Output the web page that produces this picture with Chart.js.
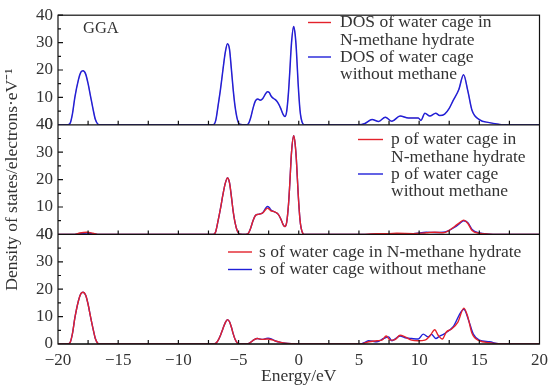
<!DOCTYPE html>
<html>
<head>
<meta charset="utf-8">
<script src="https://cdn.jsdelivr.net/npm/chart.js@4.4.1/dist/chart.umd.min.js"></script>
<style>
  html, body { margin: 0; padding: 0; background: #fff; }
</style>
</head>
<body>
<canvas id="dosChart" width="554" height="387"></canvas>
<script>
// values (energy in eV, DOS in electrons/eV)

// total DOS of the water cage (top panel)
var dosE = [-20, -19.2, -19.0, -18.8, -18.6, -18.3, -18.1, -17.92, -17.7, -17.5, -17.3, -17.1, -16.9, -16.7, -16.5,
  -7.3, -7.1, -6.9, -6.7, -6.5, -6.3, -6.1, -5.92, -5.75, -5.6, -5.45, -5.3, -5.1, -4.9,
  -4.4, -4.2, -4.0, -3.8, -3.6, -3.4, -3.2, -3.0, -2.8, -2.6, -2.45, -2.3, -2.1, -1.9, -1.7, -1.5, -1.3, -1.15,
  -1.0, -0.85, -0.75, -0.6, -0.42, -0.3, -0.2, -0.05, 0.1, 0.2, 0.35, 0.5,
  5.0, 5.5, 6.09, 6.64, 7.19, 7.74, 8.42, 9.11, 9.93, 10.15, 10.48, 10.89, 11.38, 11.71, 12.12, 12.5,
  12.81, 13.3, 13.69, 14.05, 14.4, 15.0, 15.83, 16.6, 17.0, 20];
var dosEmpty = [0, 0, 0.5, 4, 10, 16.5, 19.2, 19.7, 18.5, 15, 10.5, 6, 2, 0.3, 0,
  0, 0, 1.5, 7, 13, 20, 26.5, 29.6, 27.5, 20.5, 13, 7, 2, 0.2,
  0, 0.3, 2.5, 6, 8.7, 9.4, 9, 9.5, 11, 12.1, 11.8, 10.5, 9.6, 9, 7.8, 6, 3.8, 3,
  5, 12, 19, 30, 35.9, 33, 27.5, 15, 5.5, 2.3, 0.3, 0,
  0, 0.5, 1.9, 1.2, 2.8, 1.3, 3.2, 2.5, 2.5, 1.6, 4.2, 3.2, 4.2, 3.4, 3.9, 6,
  8.75, 12.9, 18.3, 12.3, 5.2, 1.9, 0.8, 0.2, 0, 0];
// the red curve is hidden under the blue one everywhere in the top panel
var dosHyd = dosEmpty;

// p states (middle panel)
var pE = [-20, -18.6, -18.2, -17.6, -17.1, -16.7,
  -7.1, -6.9, -6.7, -6.5, -6.3, -6.1, -5.92, -5.75, -5.6, -5.45, -5.3, -5.1, -4.9,
  -4.4, -4.2, -4.0, -3.8, -3.6, -3.4, -3.2, -3.0, -2.8, -2.6, -2.45, -2.3, -2.1, -1.9, -1.7, -1.5, -1.3, -1.15,
  -1.0, -0.85, -0.75, -0.6, -0.42, -0.3, -0.2, -0.05, 0.1, 0.2, 0.35, 0.5,
  5.5, 6.5, 7.5, 8.15, 9.5, 10.6, 11.3, 12.0, 12.4, 12.95, 13.4, 13.69, 14.05, 14.4, 15.0, 15.8, 16.5, 20];
var pHyd = [0, 0, 0.5, 0.8, 0.4, 0,
  0, 1, 5, 9.5, 14.5, 18.7, 20.6, 18.8, 14, 8.5, 4.5, 1.2, 0.1,
  0, 0.3, 2.2, 5, 6.9, 7.3, 7.5, 7.8, 8.8, 9.6, 9.2, 8.6, 8.4, 8, 7.3, 5.7, 3.6, 2.9,
  4.5, 11, 18, 30, 36, 33, 27.5, 15, 5.5, 2.3, 0.3, 0,
  0, 0.3, 0.3, 0.4, 0.3, 0.6, 0.8, 0.6, 1.2, 2.9, 4.4, 5.2, 4.0, 1.4, 0.4, 0.1, 0, 0];
var pEmpty = [0, 0, 0.3, 0.5, 0.2, 0,
  0, 1, 5, 9.5, 14.5, 18.7, 20.6, 18.8, 14, 8.5, 4.5, 1.2, 0.1,
  0, 0.3, 2.2, 5, 6.9, 7.3, 7.5, 7.9, 9.2, 10.2, 9.8, 8.9, 8.4, 8, 7.3, 5.7, 3.6, 2.9,
  4.5, 11, 18, 30, 36, 33, 27.5, 15, 5.5, 2.3, 0.3, 0,
  0, 0.2, 0.3, 0.3, 0.3, 0.8, 0.7, 0.8, 1.3, 2.6, 4.1, 5.0, 4.3, 1.8, 0.5, 0.1, 0, 0];

// s states (bottom panel), valence part
var sLowE = [-20, -19.2, -19.0, -18.8, -18.6, -18.3, -18.1, -17.92, -17.7, -17.5, -17.3, -17.1, -16.9, -16.7, -16.5,
  -7.1, -6.9, -6.7, -6.5, -6.3, -6.1, -5.92, -5.75, -5.6, -5.45, -5.3, -5.1, -4.9,
  -4.3, -4.0, -3.7, -3.43, -3.2, -2.96, -2.7, -2.55, -2.2, -1.87, -1.5, -1.13, -0.6, 0];
var sLowHyd = [0, 0, 0.5, 3.8, 9.5, 15.8, 18.4, 18.9, 17.8, 14.5, 10, 5.8, 2, 0.3, 0,
  0, 0.2, 1.3, 3.2, 5.6, 7.8, 8.9, 8.1, 6.2, 3.8, 1.8, 0.4, 0,
  0, 0.6, 1.6, 2.0, 1.8, 1.7, 1.8, 1.8, 1.5, 1.0, 0.6, 0.3, 0.1, 0];
var sLowEmpty = [0, 0, 0.5, 3.8, 9.5, 15.8, 18.4, 18.9, 17.8, 14.5, 10, 5.8, 2, 0.3, 0,
  0, 0.2, 1.3, 3.2, 5.6, 7.8, 8.9, 8.1, 6.2, 3.8, 1.8, 0.4, 0,
  0, 0.6, 1.6, 2.0, 1.8, 1.7, 2.0, 2.1, 1.7, 1.0, 0.6, 0.3, 0.1, 0];
// s states, conduction part
var sHighHydE = [5.13, 5.5, 5.82, 6.5, 6.91, 7.27, 7.6, 8.0, 8.42, 8.83, 9.38, 9.93, 10.48, 10.89,
  11.3, 11.58, 11.93, 12.26, 12.67, 13.22, 13.72, 14.05, 14.4, 15.0, 15.83, 16.6, 17.0, 20];
var sHighHyd = [0, 0.4, 0.8, 1.2, 1.4, 2.9, 1.4, 1.6, 3.2, 2.6, 1.4, 1.2, 1.4, 2.9,
  5.2, 3.2, 1.8, 4.4, 5.4, 8.0, 13.1, 9.8, 3.8, 1.2, 0.5, 0.1, 0, 0];
var sHighEmptyE = [5.13, 5.5, 5.82, 6.5, 7.05, 7.46, 7.74, 8.42, 8.83, 9.38, 9.93, 10.34, 10.75,
  11.03, 11.38, 11.71, 12.12, 12.81, 13.72, 14.1, 14.5, 15.0, 15.83, 16.8, 20];
var sHighEmpty = [0, 0.6, 1.2, 0.8, 2.0, 2.6, 1.2, 2.9, 2.3, 2.0, 1.8, 3.6, 2.6,
  3.5, 2.0, 2.9, 3.8, 6.2, 12.7, 8.8, 3.6, 1.4, 0.8, 0, 0];

var xTicks = [-20, -15, -10, -5, 0, 5, 10, 15, 20];
var yTicks = [0, 10, 20, 30, 40];

var RED = '#e3222b';
var BLUE = '#2020d8';
var TXT = '#333';
var SERIF = "'Liberation Serif', 'Times New Roman', serif";

function pts(xs, ys) {
  return xs.map(function (x, i) { return { x: x, y: ys[i] }; });
}

function line(label, data, color, axis, width) {
  return {
    label: label,
    data: data,
    yAxisID: axis,
    borderColor: color,
    backgroundColor: color,
    borderWidth: width || 1.4,
    pointRadius: 0,
    cubicInterpolationMode: 'monotone',
    fill: false
  };
}

function yScale(weight, title) {
  return {
    type: 'linear',
    position: 'left',
    stack: 'panels',
    stackWeight: 1,
    weight: weight,
    min: 0,
    max: 40,
    grid: { display: false, drawTicks: false },
    border: { display: false },
    afterBuildTicks: function (s) { s.ticks = yTicks.map(function (v) { return { value: v }; }); },
    ticks: {
      autoSkip: false,
      padding: 5,
      color: TXT,
      font: { family: SERIF, size: 17 }
    },
    title: title ? {
      display: true,
      text: 'Density of states/electrons\u00b7eV\u207b\u00b9',
      color: TXT,
      font: { family: SERIF, size: 17.5 },
      padding: { top: 2, bottom: 0 }
    } : { display: false },
    afterFit: function (s) { s.width = 58; }
  };
}

// frame, panel separators, inward ticks
var framePlugin = {
  id: 'frame',
  afterDatasetsDraw: function (chart) {
    var ctx = chart.ctx, a = chart.chartArea, x = chart.scales.x;
    var panels = [chart.scales.yDos, chart.scales.yP, chart.scales.yS];
    ctx.save();
    ctx.strokeStyle = '#111';
    ctx.lineWidth = 1.2;
    ctx.strokeRect(a.left, a.top, a.right - a.left, a.bottom - a.top);
    ctx.beginPath();
    panels.forEach(function (s) {
      ctx.moveTo(a.left, s.bottom);
      ctx.lineTo(a.right, s.bottom);
      for (var v = 0; v <= 40; v += 5) {
        var py = s.getPixelForValue(v);
        ctx.moveTo(a.left, py);
        ctx.lineTo(a.left + (v % 10 === 0 ? 5 : 3), py);
      }
      for (var e = -17.5; e < 20; e += 2.5) {
        var px = x.getPixelForValue(e);
        ctx.moveTo(px, s.bottom);
        ctx.lineTo(px, s.bottom - 4);
      }
    });
    ctx.stroke();
    ctx.restore();
  },
  afterDraw: function (chart) {
    var ctx = chart.ctx;
    ctx.save();
    ctx.fillStyle = TXT;
    ctx.textBaseline = 'middle';
    ctx.textAlign = 'left';
    ctx.font = '16.5px ' + SERIF;
    ctx.fillText('GGA', 83, 29);
    ctx.font = '17.5px ' + SERIF;

    var legends = [
      { x0: 308, x1: 331, tx: 340, rows: [
        { c: RED, y: 22.5, t: ['DOS of water cage in', 'N-methane hydrate'] },
        { c: BLUE, y: 57, t: ['DOS of water cage', 'without methane'] }] },
      { x0: 358, x1: 383, tx: 391, rows: [
        { c: RED, y: 139.5, t: ['p of water cage in', 'N-methane hydrate'] },
        { c: BLUE, y: 174, t: ['p of water cage', 'without methane'] }] },
      { x0: 228, x1: 252, tx: 259, rows: [
        { c: RED, y: 252, t: ['s of water cage in N-methane hydrate'] },
        { c: BLUE, y: 269.5, t: ['s of water cage without methane'] }] }
    ];
    legends.forEach(function (g) {
      g.rows.forEach(function (r) {
        ctx.strokeStyle = r.c;
        ctx.lineWidth = 1.4;
        ctx.beginPath();
        ctx.moveTo(g.x0, r.y);
        ctx.lineTo(g.x1, r.y);
        ctx.stroke();
        r.t.forEach(function (s, i) {
          ctx.fillText(s, g.tx, r.y + i * 17.8);
        });
      });
    });
    ctx.restore();
  }
};

var ctx = document.getElementById('dosChart').getContext('2d');
var chart = new Chart(ctx, {
  type: 'line',
  data: {
    datasets: [
      line('DOS of water cage without methane', pts(dosE, dosEmpty), BLUE, 'yDos', 1.5),
      line('DOS of water cage in N-methane hydrate', pts(dosE, dosHyd), RED, 'yDos', 0.4),
      line('p of water cage in N-methane hydrate', pts(pE, pHyd), RED, 'yP'),
      line('p of water cage without methane', pts(pE, pEmpty), BLUE, 'yP'),
      line('s of water cage in N-methane hydrate', pts(sLowE.concat(sHighHydE), sLowHyd.concat(sHighHyd)), RED, 'yS'),
      line('s of water cage without methane', pts(sLowE.concat(sHighEmptyE), sLowEmpty.concat(sHighEmpty)), BLUE, 'yS')
    ]
  },
  options: {
    responsive: false,
    animation: false,
    devicePixelRatio: 1,
    layout: { padding: { top: 7, right: 10, left: 0, bottom: 0 } },
    plugins: {
      legend: { display: false },
      tooltip: { enabled: false }
    },
    scales: {
      x: {
        type: 'linear',
        min: -20,
        max: 20,
        grid: { display: false, drawTicks: false },
        border: { display: false },
        afterBuildTicks: function (s) { s.ticks = xTicks.map(function (v) { return { value: v }; }); },
        ticks: {
          autoSkip: false,
          maxRotation: 0,
          padding: 6,
          color: TXT,
          font: { family: SERIF, size: 17 },
          callback: function (v) { return v < 0 ? '\u2212' + Math.abs(v) : String(v); }
        },
        title: {
          display: true,
          text: 'Energy/eV',
          color: TXT,
          font: { family: SERIF, size: 17.5 },
          padding: { top: 0, bottom: 0 }
        },
        afterFit: function (s) { s.height = 43; }
      },
      yS: yScale(1, false),
      yP: yScale(2, true),
      yDos: yScale(3, false)
    }
  },
  plugins: [framePlugin]
});
</script>
</body>
</html>
